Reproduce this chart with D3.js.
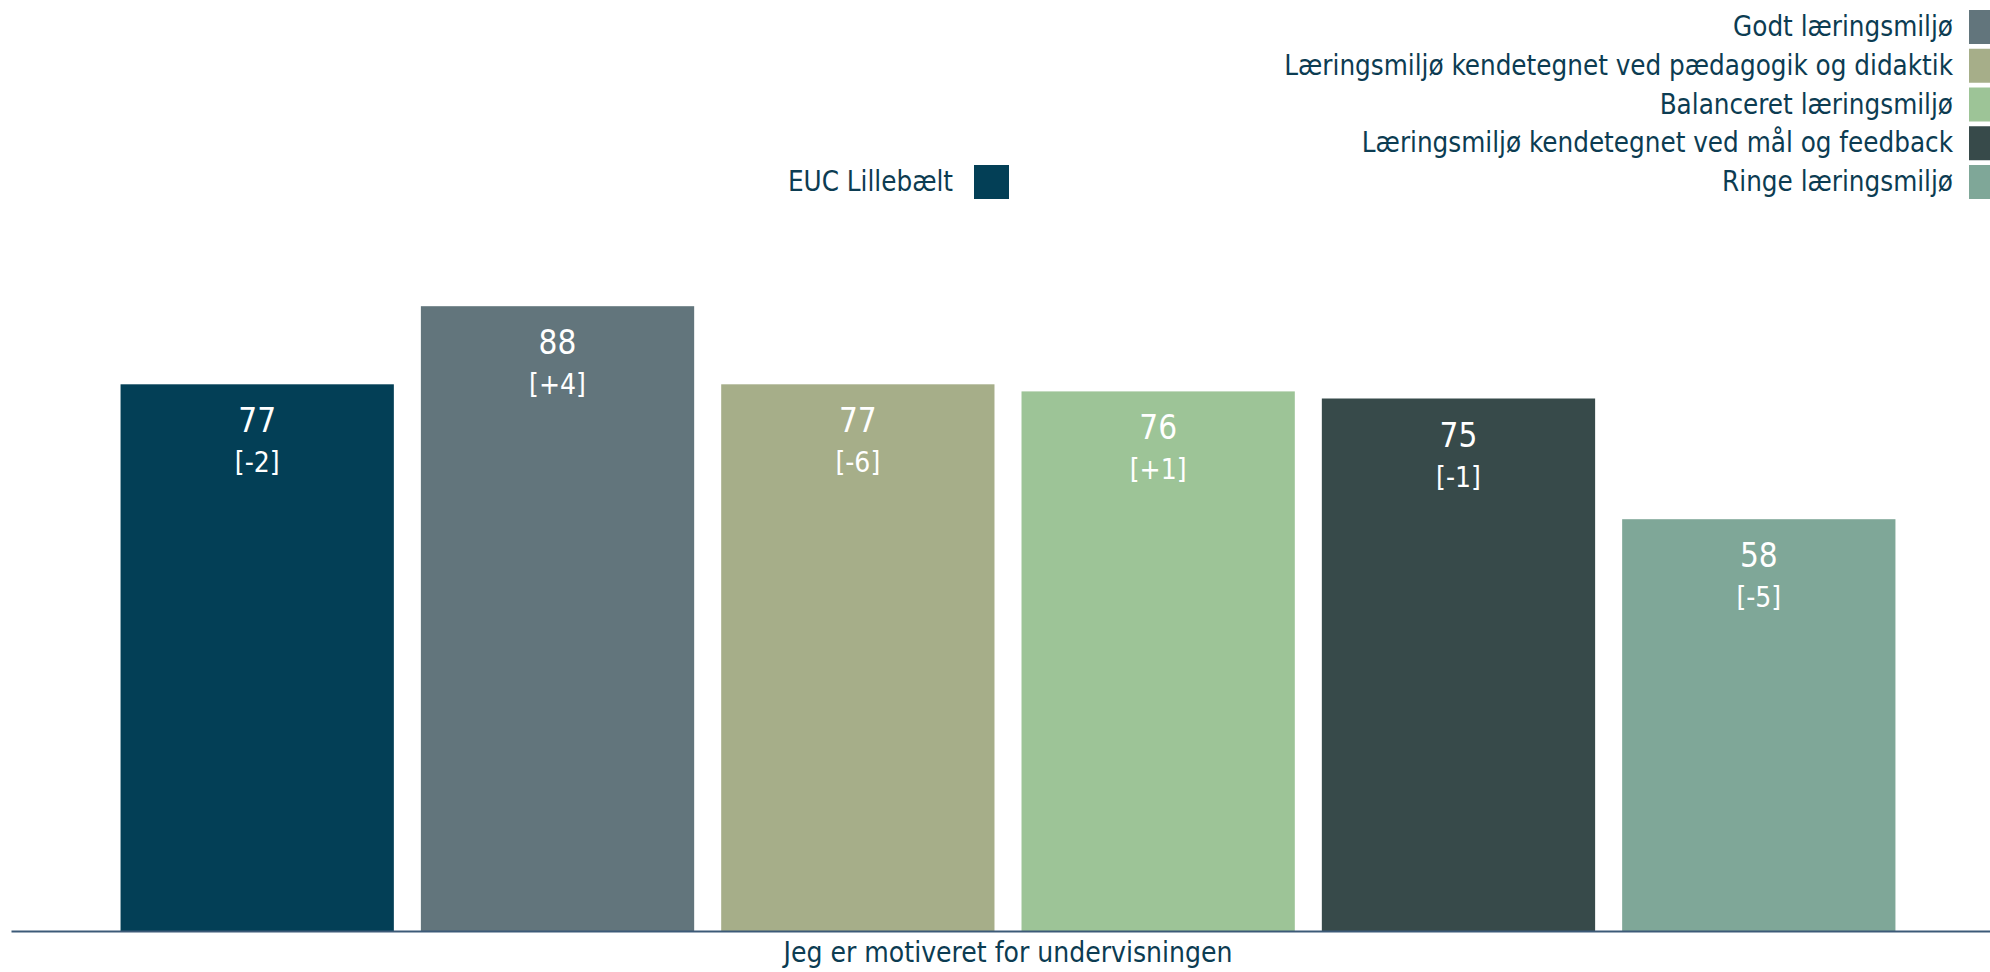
<!DOCTYPE html>
<html>
<head>
<meta charset="utf-8">
<script src="https://cdn.jsdelivr.net/npm/d3@7"></script>
<style>
  body { margin: 0; background: #fff; overflow: hidden; }
  svg text { font-family: "DejaVu Sans Condensed", "DejaVu Sans", sans-serif; }
</style>
</head>
<body>
<div id="chart"></div>
<script>
// data
var groups = ["Jeg er motiveret for undervisningen"]
var series = ["EUC Lillebælt", "Godt læringsmiljø", "Læringsmiljø kendetegnet ved pædagogik og didaktik",
              "Balanceret læringsmiljø", "Læringsmiljø kendetegnet ved mål og feedback", "Ringe læringsmiljø"]
var values = [77, 88, 77, 76, 75, 58]
var changes = ["-2", "+4", "-6", "+1", "-1", "-5"]
var colors = ["#033f56", "#62757c", "#a6ae89", "#9dc497", "#374a4a", "#7fa798"]

function drawBars() {

    let dimensions = {
        width: 1990, height: 972,
        margin: { top: 221, right: -15, bottom: 41, left: 11 },
    }
    dimensions.boundedWidth = dimensions.width - dimensions.margin.left - dimensions.margin.right
    dimensions.boundedHeight = dimensions.height - dimensions.margin.top - dimensions.margin.bottom

    const svg = d3.select("#chart")
        .append("svg")
        .attr("width", dimensions.width)
        .attr("height", dimensions.height)

    const bounds = svg.append("g")
        .attr("transform", `translate(${dimensions.margin.left},${dimensions.margin.top})`)

    var x0 = d3.scaleBand().domain(groups).range([0, dimensions.boundedWidth]).paddingOuter(0.0533)
    var x1 = d3.scaleBand().domain(series).range([0, x0.bandwidth()]).paddingInner(0.09).paddingOuter(0.045)
    var yScale = d3.scaleLinear().domain([0, 100]).range([dimensions.boundedHeight, 0])
    var colScale = d3.scaleOrdinal().domain(series).range(colors)

    const rows = series.map((s, i) => ({ name: s, value: values[i], change: changes[i] }))

    const group = bounds.selectAll(".group").data(groups)
        .enter().append("g")
        .attr("class", "group")
        .attr("transform", d => `translate(${x0(d)},0)`)

    const bar = group.selectAll(".bar").data(rows)
        .enter().append("g")
        .attr("class", "bar")

    bar.append("rect")
        .attr("x", d => x1(d.name))
        .attr("y", d => yScale(d.value))
        .attr("width", x1.bandwidth())
        .attr("height", d => yScale(0) - yScale(d.value))
        .attr("fill", d => colScale(d.name))

    bar.append("text")
        .attr("x", d => x1(d.name) + x1.bandwidth() / 2)
        .attr("y", d => yScale(d.value) + 48)
        .attr("text-anchor", "middle")
        .attr("fill", "#fff")
        .style("font-size", "33px")
        .text(d => d.value)

    bar.append("text")
        .attr("x", d => x1(d.name) + x1.bandwidth() / 2)
        .attr("y", d => yScale(d.value) + 88)
        .attr("text-anchor", "middle")
        .attr("fill", "#fff")
        .style("font-size", "28px")
        .text(d => "[" + d.change + "]")

    // x axis, just the baseline and the one category label
    const xAxis = bounds.append("g")
        .attr("transform", `translate(0,${dimensions.boundedHeight})`)
        .call(d3.axisBottom(x0).tickSize(0).tickPadding(11))
    xAxis.select(".domain").attr("stroke", "#3c5a78").attr("stroke-width", 2)
    xAxis.selectAll("text")
        .attr("fill", "#0c3c52")
        .style("font-size", "28px")
        .style("font-family", null)

    // legend: first series alone in the middle, the rest stacked top right
    const legendMain = svg.append("g").attr("transform", "translate(974,165)")
    legendMain.append("rect").attr("width", 35).attr("height", 34).attr("fill", colScale(series[0]))
    legendMain.append("text").attr("x", -21).attr("y", 26)
        .attr("text-anchor", "end").attr("fill", "#0c3c52").style("font-size", "27.5px")
        .text(series[0])

    var lineLegend = svg.selectAll(".lineLegend").data(series.slice(1))
        .enter().append("g")
        .attr("class", "lineLegend")
        .attr("transform", (d, i) => "translate(1969," + (10 + i * 38.75) + ")")

    lineLegend.append("rect")
        .attr("fill", d => colScale(d))
        .attr("width", 35).attr("height", 34)

    lineLegend.append("text").text(d => d)
        .attr("x", -16).attr("y", 26)
        .attr("text-anchor", "end")
        .attr("fill", "#0c3c52")
        .style("font-size", "27.5px")
}
drawBars()
</script>
</body>
</html>
